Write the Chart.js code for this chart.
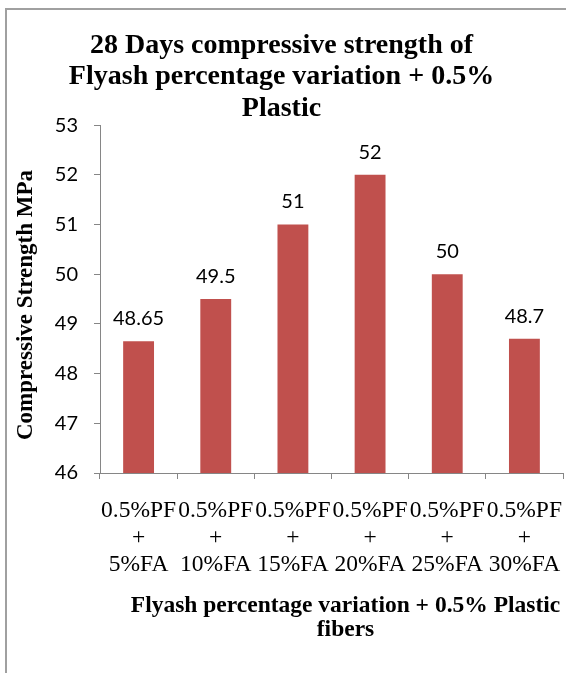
<!DOCTYPE html>
<html>
<head>
<meta charset="utf-8">
<title>28 Days compressive strength</title>
<script src="https://cdn.jsdelivr.net/npm/chart.js@4.4.1/dist/chart.umd.min.js"></script>
<style>
  html, body { margin: 0; padding: 0; background: #fff; }
  #wrap { position: relative; width: 566px; height: 673px; overflow: hidden; }
  #frame { position: absolute; left: 5px; top: 8px; width: 600px; height: 700px;
           border-top: 2px solid #a0a0a0; border-left: 2px solid #a0a0a0; }
  canvas { position: absolute; left: 0; top: 0; }
</style>
</head>
<body>
<div id="wrap">
  <div id="frame"></div>
  <canvas id="strengthChart" width="566" height="673"></canvas>
</div>
<script>
// chart data
const categories = [
  ["0.5%PF", "+", "5%FA"],
  ["0.5%PF", "+", "10%FA"],
  ["0.5%PF", "+", "15%FA"],
  ["0.5%PF", "+", "20%FA"],
  ["0.5%PF", "+", "25%FA"],
  ["0.5%PF", "+", "30%FA"]
];
const strengthValues = [48.65, 49.5, 51, 52, 50, 48.7];
const yTicks = [46, 47, 48, 49, 50, 51, 52, 53];
const xTitleLines = ["Flyash percentage variation + 0.5% Plastic", "fibers"];
const yTitleText = "Compressive Strength MPa";

const axisGray = "#868686";
const serif = "'Liberation Serif', 'Times New Roman', serif";
const sans = "Lato, 'Open Sans', sans-serif";

// value labels above each bar
const barLabels = {
  id: "barLabels",
  afterDatasetsDraw(chart) {
    const ctx = chart.ctx;
    const meta = chart.getDatasetMeta(0);
    ctx.save();
    ctx.font = "20px " + sans;
    ctx.fillStyle = "#000";
    ctx.textAlign = "center";
    ctx.textBaseline = "alphabetic";
    meta.data.forEach((bar, i) => {
      ctx.fillText(String(strengthValues[i]), bar.x, bar.y - 16);
    });
    ctx.restore();
  }
};

// axis titles, placed a bit off-centre like the original
const axisTitles = {
  id: "axisTitles",
  afterDraw(chart) {
    const ctx = chart.ctx;
    const area = chart.chartArea;
    ctx.save();
    ctx.fillStyle = "#000";
    ctx.textAlign = "center";
    ctx.textBaseline = "middle";

    ctx.font = "bold 23.5px " + serif;
    const cx = (area.left + area.right) / 2 + 14;
    xTitleLines.forEach((line, i) => ctx.fillText(line, cx, area.bottom + 133 + i * 24));

    ctx.font = "bold 23px " + serif;
    ctx.translate(26, (area.top + area.bottom) / 2 + 6);
    ctx.rotate(-Math.PI / 2);
    ctx.fillText(yTitleText, 0, 0);
    ctx.restore();
  }
};

new Chart(document.getElementById("strengthChart"), {
  type: "bar",
  data: {
    labels: categories,
    datasets: [{
      data: strengthValues,
      backgroundColor: "#C0504D",
      borderWidth: 0,
      barPercentage: 0.4,
      categoryPercentage: 1
    }]
  },
  options: {
    responsive: false,
    animation: false,
    layout: { padding: { left: 0, right: 3, top: 0, bottom: 0 } },
    plugins: {
      legend: { display: false },
      tooltip: { enabled: false },
      title: {
        display: true,
        text: ["28 Days compressive strength of", "Flyash percentage variation + 0.5%", "Plastic"],
        color: "#000",
        font: { family: serif, size: 28, weight: "bold", lineHeight: 1.12 },
        padding: { top: 30, bottom: 1 }
      }
    },
    scales: {
      x: {
        grid: { drawOnChartArea: false, drawTicks: true, tickLength: 6, color: axisGray },
        border: { color: axisGray, width: 1 },
        ticks: {
          color: "#000",
          padding: 18,
          maxRotation: 0,
          autoSkip: false,
          font: { family: serif, size: 23.5, lineHeight: 1.15 }
        },
        afterFit(scale) {
          scale.height = 200;
          scale.paddingLeft = 0;
          scale.paddingRight = 0;
        }
      },
      y: {
        min: 46,
        max: 53,
        afterBuildTicks(scale) { scale.ticks = yTicks.map(v => ({ value: v })); },
        grid: { drawOnChartArea: false, drawTicks: true, tickLength: 6, color: axisGray },
        border: { color: axisGray, width: 1 },
        ticks: {
          color: "#000",
          padding: 16,
          font: { family: sans, size: 20 }
        },
        afterFit(scale) { scale.width = 100; }
      }
    }
  },
  plugins: [barLabels, axisTitles]
});
</script>
</body>
</html>
